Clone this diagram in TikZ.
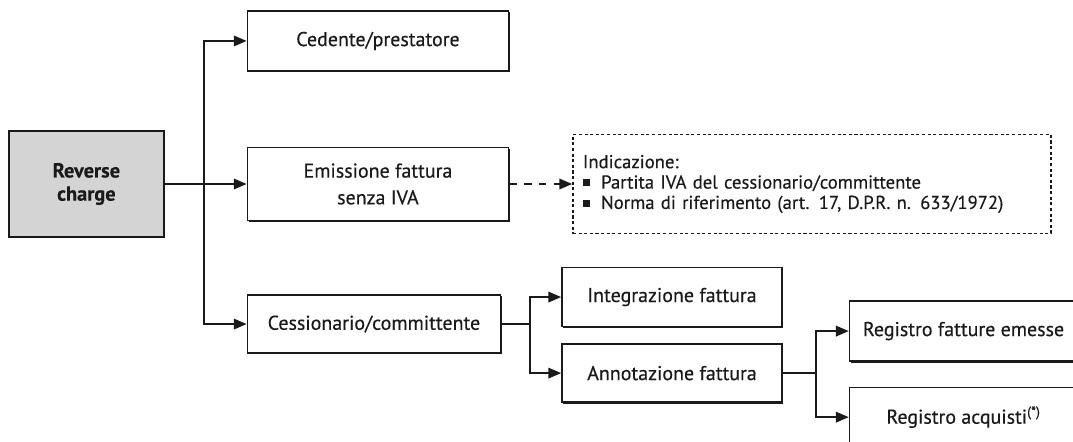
\documentclass[tikz,border=0pt]{standalone}
\usepackage{fontspec}
\setmainfont{PT Sans}[FakeBold=0.35]
\usepackage{xcolor}
\usepackage{tikz}
\usetikzlibrary{arrows.meta,positioning,shadows}
\definecolor{ink}{HTML}{1A1A1A}
\definecolor{rcgray}{HTML}{D4D4D4}
\tikzset{
  box/.style    ={draw=ink,line width=1.1pt,fill=white,align=center,inner sep=3pt,
                  font=\fontsize{14.2}{19}\selectfont,text=ink,
                  drop shadow={shadow xshift=1pt,shadow yshift=-1pt,fill=ink,opacity=1}},
  rcbox/.style  ={box,fill=rcgray,font=\fontsize{14.5}{16.5}\selectfont\bfseries},
  notebox/.style={draw=ink,line width=1pt,dash pattern=on 2.2pt off 1.8pt,
                  align=left,inner xsep=0.25cm,text width=11.45cm,text=ink,
                  font=\fontsize{13.3}{14.5}\selectfont},
  flow/.style   ={-{Triangle[length=3.2mm,width=2.6mm]},line width=1.4pt,draw=ink},
  hint/.style   ={flow,dash pattern=on 5.5pt off 5pt}
}
\newcommand{\sqbul}{\rule[0.25ex]{0.75ex}{0.75ex}\hspace{0.6em}}

\begin{document}
\begin{tikzpicture}
    \useasboundingbox (0,0) rectangle (26.825,-11.025);
    % root
    \node[rcbox,minimum width=3.875cm,minimum height=2.65cm] (rc) at (2.16,-4.6) {Reverse\\charge};
    % first level
    \node[box,right=2.05cm of rc,minimum width=6.525cm,minimum height=1.825cm] (emis) {Emissione fattura\\senza IVA};
    \node[box,above=1.875cm of emis,minimum width=6.525cm,minimum height=1.5cm] (ced) {Cedente/prestatore};
    \node[box,below=1.825cm of emis.south west,anchor=north west,
          minimum width=6.325cm,minimum height=1.45cm] (cess) {Cessionario/committente};
    % dashed note
    \node[notebox,right=1.575cm of emis,minimum height=2.475cm] (note)
      {Indicazione:\\
       \sqbul Partita IVA del cessionario/committente\\
       \sqbul Norma di riferimento (art. 17, D.P.R. n. 633/1972)};
    % second level
    \node[box,right=1.5cm of cess,yshift=0.675cm,minimum width=5.5cm,minimum height=1.475cm] (integ) {Integrazione fattura};
    \node[box,below=0.4cm of integ,minimum width=5.5cm,minimum height=1.45cm] (annot) {Annotazione fattura};
    % third level
    \node[box,right=1.65cm of annot,yshift=1.05cm,minimum width=5.7cm,minimum height=1.5cm] (rege) {Registro fatture emesse};
    \node[box,below=0.625cm of rege,minimum width=5.7cm,minimum height=1.475cm] (rega) {Registro acquisti\textsuperscript{(*)}};
    % connectors
    \coordinate (fork) at ([xshift=0.975cm]rc.east);
    \draw[flow] (rc) -- (emis);
    \draw[flow] (fork) |- (ced.west);
    \draw[flow] (fork) |- (cess.west);
    \draw[hint] (emis) -- (note);
    \draw[flow] (cess.east) -- ++(0.725,0) |- (integ.west);
    \draw[flow] (cess.east) -- ++(0.725,0) |- (annot.west);
    \draw[flow] (annot.east) -- ++(0.825,0) |- (rege.west);
    \draw[flow] (annot.east) -- ++(0.825,0) |- (rega.west);
\end{tikzpicture}
\end{document}
